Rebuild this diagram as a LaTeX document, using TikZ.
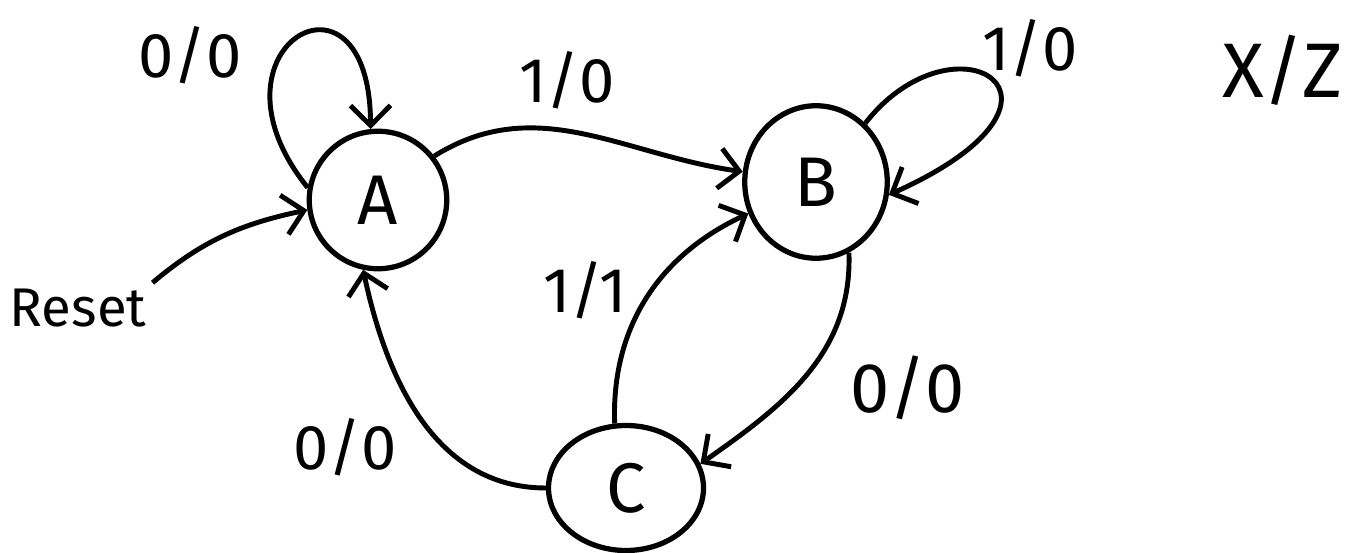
\documentclass[tikz,border=0pt]{standalone}
\usepackage{fontspec}
\setmainfont{Fira Sans}
\usetikzlibrary{arrows.meta,shapes.geometric}
\tikzset{
  state/.style={draw,circle,line width=3pt,minimum size=2.75cm,inner sep=0pt,font=\fontsize{40}{44}\selectfont},
  lbl/.style={font=\fontsize{36}{40}\selectfont},
  trans/.style={line width=2.8pt,-{Straight Barb[length=4mm,width=8mm,line width=2.8pt]}}
}
\begin{document}
\begin{tikzpicture}
      \useasboundingbox (0,0) rectangle (26.94,11.06);
      \node[state] (A) at (7.56,7.06) {A};
      \node[state,ellipse,minimum width=2.85cm,minimum height=3.05cm] (B) at (16.32,7.42) {B};
      \node[state,ellipse,minimum width=3.1cm,minimum height=2.5cm] (C) at (12.52,1.30) {C};
      \node[lbl,font=\fontsize{31}{36}\selectfont] (reset) at (1.56,4.90) {Reset};
      \node[lbl] (l00a) at (3.8,9.96) {0/0};
      \node[lbl] (l10a) at (11.34,9.46) {1/0};
      \node[lbl] (l10b) at (20.6,10.10) {1/0};
      \node[lbl,font=\fontsize{44}{48}\selectfont] (xz) at (25.65,9.66) {X/Z};
      \node[lbl] (l11) at (11.7,5.26) {1/1};
      \node[lbl,font=\fontsize{40}{44}\selectfont] (l00b) at (18.15,3.30) {0/0};
      \node[lbl] (l00c) at (6.9,2.12) {0/0};
      \begin{scope}[trans]
        \draw (A.170) .. controls (3.9,10.1) and (7.4,12.1) .. (A.96);
        \draw (A.38) to[out=32,in=172] (B.172);
        \draw (B.50) .. controls (19.1,10.9) and (22.1,9.1) .. (B.-10);
        \draw (reset.north east) to[out=40,in=192] (A.188);
        \draw (C.100) to[out=92,in=205] (B.205);
        \draw (B.-65) to[out=-88,in=35] (C.18);
        \draw (C.180) to[out=180,in=-78] (A.-102);
      \end{scope}
    \end{tikzpicture}
\end{document}
